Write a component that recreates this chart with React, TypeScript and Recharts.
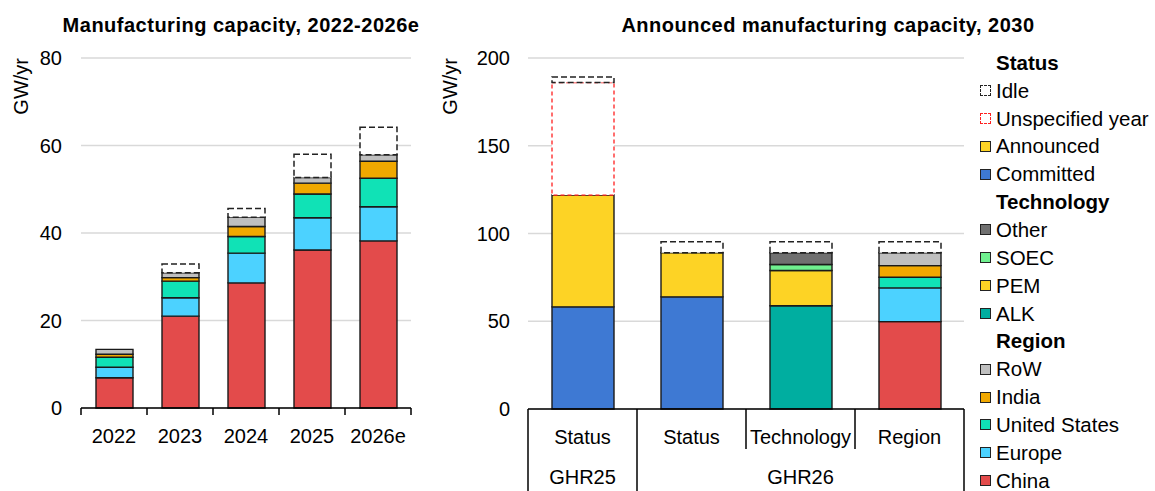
import { Bar, BarChart, CartesianGrid, XAxis, YAxis } from "recharts";

const FONT = "'Liberation Sans', Arial, sans-serif";

// left chart: manufacturing capacity by region (GW/yr)
const years = ["2022", "2023", "2024", "2025", "2026e"];
const chinaL = [6.9, 21.0, 28.6, 36.1, 38.2];
const europeL = [2.4, 4.2, 6.8, 7.4, 7.8];
const usL = [2.3, 3.8, 3.8, 5.4, 6.5];
const indiaL = [0.7, 0.8, 2.3, 2.5, 3.9];
const rowL = [1.1, 1.1, 2.1, 1.3, 1.5];
const idleL = [0, 2.0, 2.0, 5.3, 6.3];
const leftTicks = [0, 20, 40, 60, 80];

// right chart: announced capacity 2030
const catLabels = ["Status", "Status", "Technology", "Region"];
const groupLabels = ["GHR25", "GHR26", "GHR26", "GHR26"];
const committed = [58.2, 63.9, 0, 0];
const announced = [63.7, 25.1, 0, 0];
const unspecified = [64.1, 0, 0, 0];
const alk = [0, 0, 58.8, 0];
const pem = [0, 0, 20.1, 0];
const soec = [0, 0, 3.4, 0];
const other = [0, 0, 6.7, 0];
const chinaR = [0, 0, 0, 49.8];
const europeR = [0, 0, 0, 19.2];
const usR = [0, 0, 0, 6.1];
const indiaR = [0, 0, 0, 6.6];
const rowR = [0, 0, 0, 7.3];
const idleR = [3.2, 6.3, 6.3, 6.3];
const rightTicks = [0, 50, 100, 150, 200];

const C = {
  china: "#E34B4B",
  europe: "#4CD2FF",
  us: "#10E2B6",
  india: "#F0A800",
  row: "#BFBFBF",
  committed: "#3E79D3",
  announced: "#FDD325",
  alk: "#00AEA0",
  soec: "#6FF08F",
  other: "#707070",
};

const leftData = years.map((y, i) => ({
  year: y,
  china: chinaL[i],
  europe: europeL[i],
  us: usL[i],
  india: indiaL[i],
  row: rowL[i],
  idle: idleL[i] || null,
}));

const nz = (v: number) => (v ? v : null);
const rightData = catLabels.map((c, i) => ({
  cat: `${groupLabels[i]}-${c}-${i}`,
  committed: nz(committed[i]),
  announced: nz(announced[i]),
  alk: nz(alk[i]),
  pem: nz(pem[i]),
  soec: nz(soec[i]),
  other: nz(other[i]),
  china: nz(chinaR[i]),
  europe: nz(europeR[i]),
  us: nz(usR[i]),
  india: nz(indiaR[i]),
  row: nz(rowR[i]),
  unspecified: nz(unspecified[i]),
  idle: nz(idleR[i]),
}));

const legendRows: { label: string; color?: string; header?: boolean; dash?: string }[] = [
  { label: "Status", header: true },
  { label: "Idle", dash: "#222" },
  { label: "Unspecified year", dash: "#FF2020" },
  { label: "Announced", color: C.announced },
  { label: "Committed", color: C.committed },
  { label: "Technology", header: true },
  { label: "Other", color: C.other },
  { label: "SOEC", color: C.soec },
  { label: "PEM", color: C.announced },
  { label: "ALK", color: C.alk },
  { label: "Region", header: true },
  { label: "RoW", color: C.row },
  { label: "India", color: C.india },
  { label: "United States", color: C.us },
  { label: "Europe", color: C.europe },
  { label: "China", color: C.china },
];

const solid = { stroke: "#1a1a1a", strokeWidth: 1.4, isAnimationActive: false };

function YearTick(props: any) {
  const { x, y, payload, index } = props;
  const half = payload?.offset ?? 33;
  return (
    <g>
      <line x1={x - half} x2={x - half} y1={y} y2={y + 7} stroke="#000" strokeWidth={1.5} />
      {index === years.length - 1 && (
        <line x1={x + half} x2={x + half} y1={y} y2={y + 7} stroke="#000" strokeWidth={1.5} />
      )}
      <text x={x} y={y + 28} textAnchor="middle" dominantBaseline="central" fontSize={20} fill="#000" fontFamily={FONT}>
        {payload.value}
      </text>
    </g>
  );
}

function GroupTick(props: any) {
  const { x, y, index } = props;
  const half = props.payload?.offset ?? 54.5;
  const left = x - half;
  const newGroup = index === 0 || groupLabels[index] !== groupLabels[index - 1];
  let span = 0;
  if (newGroup) {
    while (groupLabels[index + span] === groupLabels[index]) span++;
  }
  return (
    <g>
      <line x1={left} x2={left} y1={y} y2={newGroup ? y + 82 : y + 40} stroke="#000" strokeWidth={1.5} />
      {index === catLabels.length - 1 && (
        <line x1={x + half} x2={x + half} y1={y} y2={y + 82} stroke="#000" strokeWidth={1.5} />
      )}
      <text x={x} y={y + 28} textAnchor="middle" dominantBaseline="central" fontSize={20} fill="#000" fontFamily={FONT}>
        {catLabels[index]}
      </text>
      {newGroup && (
        <text x={left + span * half} y={y + 68} textAnchor="middle" dominantBaseline="central" fontSize={20} fill="#000" fontFamily={FONT}>
          {groupLabels[index]}
        </text>
      )}
    </g>
  );
}

function UnitLabel(props: any) {
  const { viewBox, dx } = props;
  const x = viewBox.x + dx;
  const y = viewBox.y;
  return (
    <text x={x} y={y} transform={`rotate(-90 ${x} ${y})`} textAnchor="end" dominantBaseline="central" fontSize={20} fill="#000" fontFamily={FONT}>
      GW/yr
    </text>
  );
}

const tickStyle = { fontSize: 20, fill: "#000", fontFamily: FONT };
const titleStyle: React.CSSProperties = {
  position: "absolute",
  top: 15,
  fontSize: 20,
  lineHeight: "20px",
  letterSpacing: 0.5,
  fontWeight: "bold",
  fontFamily: FONT,
  whiteSpace: "nowrap",
  transform: "translateX(-50%)",
};

export default function App() {
  return (
    <div style={{ position: "absolute", left: 0, top: 0, width: 1155, height: 491, background: "#fff", fontFamily: FONT, overflow: "hidden" }}>
      <div style={{ ...titleStyle, left: 241 }}>Manufacturing capacity, 2022-2026e</div>
      <div style={{ ...titleStyle, left: 828 }}>Announced manufacturing capacity, 2030</div>

      <div style={{ position: "absolute", left: 0, top: 0 }}>
        <BarChart width={430} height={491} data={leftData} margin={{ top: 58, right: 19, left: 0, bottom: 0 }} barSize={37}>
          <CartesianGrid vertical={false} stroke="#d9d9d9" strokeWidth={1.5} />
          <XAxis dataKey="year" height={83} tickLine={false} tickSize={0} tickMargin={0} axisLine={{ stroke: "#000", strokeWidth: 1.5 }} tick={<YearTick />} interval={0} />
          <YAxis domain={[0, 80]} ticks={leftTicks} width={81} axisLine={false} tickLine={false} tickSize={0} tickMargin={19} tick={tickStyle} label={<UnitLabel dx={21} />} />
          <Bar dataKey="china" stackId="a" fill={C.china} {...solid} />
          <Bar dataKey="europe" stackId="a" fill={C.europe} {...solid} />
          <Bar dataKey="us" stackId="a" fill={C.us} {...solid} />
          <Bar dataKey="india" stackId="a" fill={C.india} {...solid} />
          <Bar dataKey="row" stackId="a" fill={C.row} {...solid} />
          <Bar dataKey="idle" stackId="a" fill="#fff" stroke="#222" strokeWidth={1.5} strokeDasharray="6 3" isAnimationActive={false} />
        </BarChart>
      </div>

      <div style={{ position: "absolute", left: 430, top: 0 }}>
        <BarChart width={550} height={491} data={rightData} margin={{ top: 58, right: 16, left: 0, bottom: 0 }} barSize={62}>
          <CartesianGrid vertical={false} stroke="#d9d9d9" strokeWidth={1.5} />
          <XAxis dataKey="cat" height={82} tickLine={false} tickSize={0} tickMargin={0} axisLine={{ stroke: "#000", strokeWidth: 1.5 }} tick={<GroupTick />} interval={0} />
          <YAxis domain={[0, 200]} ticks={rightTicks} width={98} axisLine={false} tickLine={false} tickSize={0} tickMargin={18} tick={tickStyle} label={<UnitLabel dx={20} />} />
          <Bar dataKey="committed" stackId="a" fill={C.committed} {...solid} />
          <Bar dataKey="announced" stackId="a" fill={C.announced} {...solid} />
          <Bar dataKey="alk" stackId="a" fill={C.alk} {...solid} />
          <Bar dataKey="pem" stackId="a" fill={C.announced} {...solid} />
          <Bar dataKey="soec" stackId="a" fill={C.soec} {...solid} />
          <Bar dataKey="other" stackId="a" fill={C.other} {...solid} />
          <Bar dataKey="china" stackId="a" fill={C.china} {...solid} />
          <Bar dataKey="europe" stackId="a" fill={C.europe} {...solid} />
          <Bar dataKey="us" stackId="a" fill={C.us} {...solid} />
          <Bar dataKey="india" stackId="a" fill={C.india} {...solid} />
          <Bar dataKey="row" stackId="a" fill={C.row} {...solid} />
          <Bar dataKey="unspecified" stackId="a" fill="#fff" stroke="#FF2020" strokeWidth={1.3} strokeDasharray="4 3" isAnimationActive={false} />
          <Bar dataKey="idle" stackId="a" fill="#fff" stroke="#222" strokeWidth={1.5} strokeDasharray="6 3" isAnimationActive={false} />
        </BarChart>
      </div>

      <div style={{ position: "absolute", left: 980, top: 49 }}>
        {legendRows.map((r) => (
          <div key={r.label} style={{ height: 27.85, display: "flex", alignItems: "center", fontSize: 20.5, whiteSpace: "nowrap" }}>
            <span
              style={{
                width: 11,
                height: 11,
                marginRight: 5,
                flexShrink: 0,
                boxSizing: "border-box",
                visibility: r.header ? "hidden" : "visible",
                background: r.dash ? "#fff" : r.color,
                border: r.dash ? `1.5px dashed ${r.dash}` : "1.5px solid #222",
              }}
            />
            <span style={{ fontWeight: r.header ? "bold" : "normal" }}>{r.label}</span>
          </div>
        ))}
      </div>
    </div>
  );
}
